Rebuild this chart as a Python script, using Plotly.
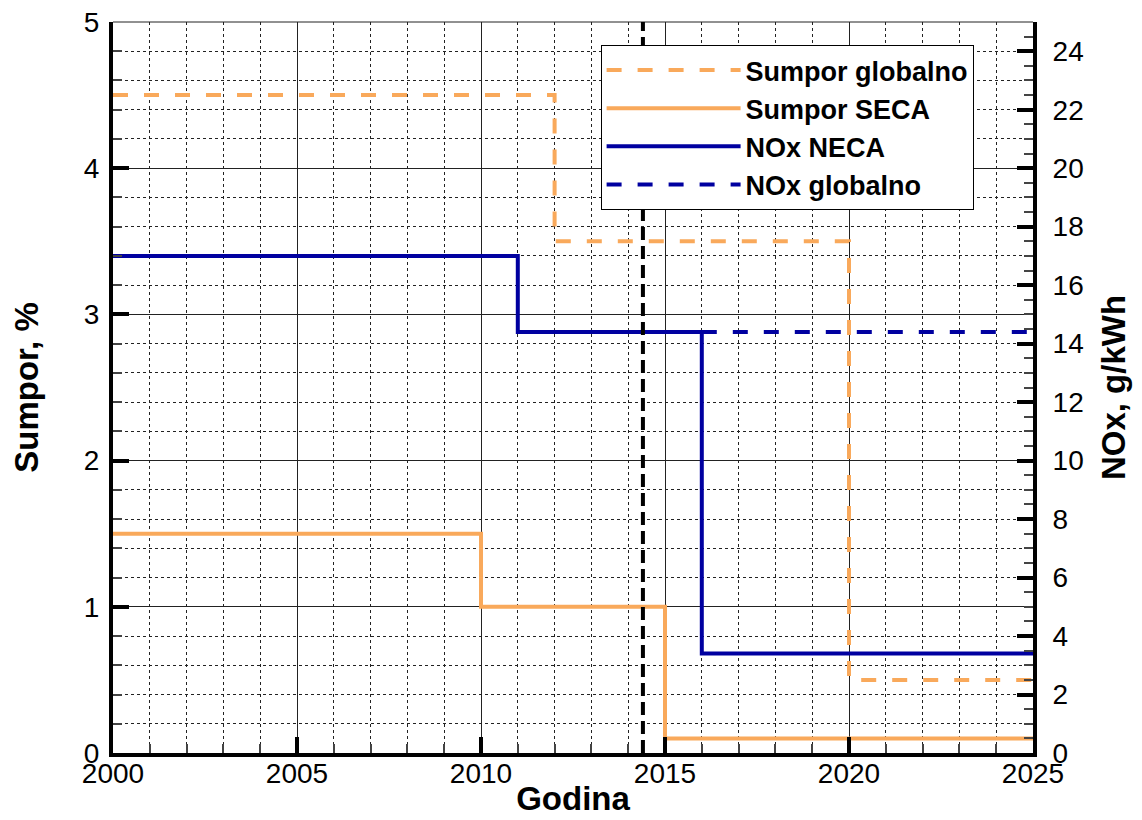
import plotly.graph_objects as go

# ---- data ----
years_s_global = [2000, 2012, 2020, 2025]
sulfur_global = [4.5, 3.5, 0.5, 0.5]
years_s_seca = [2000, 2010, 2015, 2025]
sulfur_seca = [1.5, 1.0, 0.1, 0.1]
years_nox_neca = [2000, 2011, 2016, 2025]
nox_neca = [17.0, 14.4, 3.4, 3.4]
years_nox_global = [2016, 2025]
nox_global = [14.4, 14.4]
marker_year = [2014.4, 2014.4]
marker_span = [0, 25]
x_tickvals = [2000, 2005, 2010, 2015, 2020, 2025]
y_tickvals = [0, 1, 2, 3, 4, 5]
y2_tickvals = list(range(0, 25, 2))

ORANGE = "#F9A95B"
BLUE = "#0000A0"
FONT = "Liberation Sans, Arial, sans-serif"

fig = go.Figure()

fig.add_trace(go.Scatter(x=years_s_global, y=sulfur_global, name="Sumpor globalno",
                         mode="lines", line=dict(color=ORANGE, width=4, dash="15px,16px", shape="hv"),
                         legendrank=1))
fig.add_trace(go.Scatter(x=years_s_seca, y=sulfur_seca, name="Sumpor SECA",
                         mode="lines", line=dict(color=ORANGE, width=4, shape="hv"),
                         legendrank=2))
fig.add_trace(go.Scatter(x=years_nox_neca, y=nox_neca, name="NOx NECA", yaxis="y2",
                         mode="lines", line=dict(color=BLUE, width=4, shape="hv"),
                         legendrank=3))
fig.add_trace(go.Scatter(x=years_nox_global, y=nox_global, name="NOx globalno", yaxis="y2",
                         mode="lines", line=dict(color=BLUE, width=4, dash="15px,16px", shape="hv"),
                         legendrank=4))
fig.add_trace(go.Scatter(x=marker_year, y=marker_span, yaxis="y2", showlegend=False,
                         mode="lines", line=dict(color="black", width=4, dash="13px,6px"),
                         hoverinfo="skip"))

tickfont = dict(family=FONT, size=28, color="black")
titlefont = dict(family=FONT, size=33, color="black", weight="bold")

fig.update_layout(
    width=1142, height=820,
    margin=dict(l=105, r=117, t=14, b=75, autoexpand=False),
    paper_bgcolor="white", plot_bgcolor="white",
    font=dict(family=FONT, color="black"),
    xaxis=dict(
        range=[2000, 2025], tickvals=x_tickvals, ticks="inside", ticklen=16, tickwidth=4,
        tickcolor="black", showline=True, linewidth=4, linecolor="black",
        showgrid=True, gridcolor="#222", gridwidth=1, zeroline=False, automargin=False,
        tickfont=tickfont, ticklabelstandoff=-8, ticklabeloverflow="allow",
        title=dict(text="Godina", font=titlefont, standoff=0),
        minor=dict(dtick=1, ticks="inside", ticklen=9, tickwidth=2, tickcolor="#444",
                   showgrid=True, gridcolor="#222", gridwidth=1, griddash="dot"),
    ),
    yaxis=dict(
        range=[0, 5], tickvals=y_tickvals, ticks="inside", ticklen=16, tickwidth=4,
        tickcolor="black", showline=True, linewidth=4, linecolor="black",
        showgrid=True, gridcolor="#222", gridwidth=1, zeroline=False, automargin=False,
        tickfont=tickfont, ticklabelstandoff=4, ticklabeloverflow="allow",
        title=dict(text="Sumpor, %", font=titlefont, standoff=38),
        minor=dict(dtick=0.2, ticks="inside", ticklen=9, tickwidth=2, tickcolor="#444",
                   showgrid=True, gridcolor="#222", gridwidth=1, griddash="dot"),
    ),
    yaxis2=dict(
        range=[0, 25], tickvals=y2_tickvals, overlaying="y", side="right",
        ticks="inside", ticklen=16, tickwidth=4, tickcolor="black",
        showline=True, linewidth=4, linecolor="black", showgrid=False, zeroline=False,
        automargin=False, tickfont=tickfont, ticklabelstandoff=10, ticklabeloverflow="allow",
        title=dict(text="NOx, g/kWh", font=titlefont, standoff=20),
        minor=dict(dtick=0.5, ticks="inside", ticklen=9, tickwidth=2, tickcolor="#444",
                   showgrid=False),
    ),
    legend=dict(
        x=0.530, y=0.9685, xanchor="left", yanchor="top",
        bgcolor="white", bordercolor="black", borderwidth=1,
        font=dict(family=FONT, size=27, color="black", weight="bold"),
        itemwidth=134, tracegroupgap=0,
    ),
    showlegend=True,
)

# thin top frame edge
fig.add_shape(type="line", xref="paper", yref="paper", x0=0, x1=1, y0=1, y1=1,
              line=dict(color="#222", width=1), layer="below")

fig.write_html("out.html")
